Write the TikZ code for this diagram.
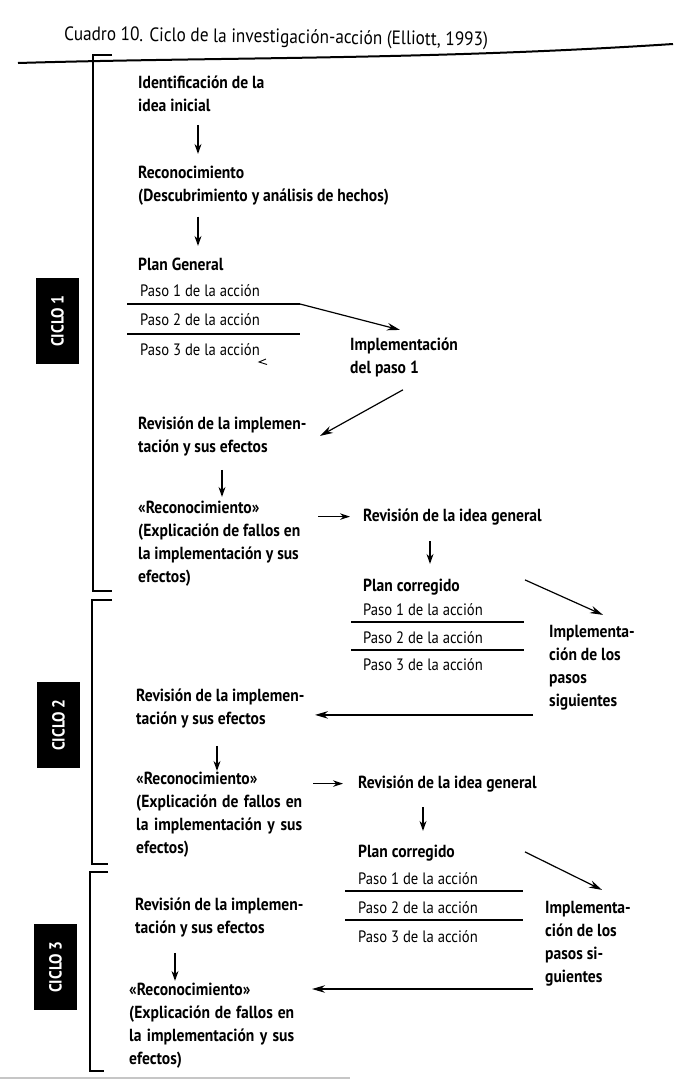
\documentclass[tikz,border=0pt]{standalone}
\usepackage{fontspec}
\setmainfont{PT Sans}[FakeStretch=0.89]
\usetikzlibrary{arrows.meta}
\tikzset{
  blk/.style={anchor=north west, inner sep=0pt, align=left, yshift=-4pt,
    font=\bfseries\fontsize{17.5}{23}\selectfont, execute at begin node=\strut},
  paso/.style={anchor=base west, inner sep=0pt, font=\fontsize{16.5}{20}\selectfont},
  ciclo/.style={fill=black, text=white, rotate=90, minimum width=86pt,
    minimum height=43pt, inner sep=0pt, font=\bfseries\fontsize{17.5}{20}\selectfont},
  dn/.style={-{Stealth[length=10pt,width=7pt]}, line width=1.3pt},
  sa/.style={-{Stealth[length=10pt,width=6.5pt]}, line width=1.3pt},
  la/.style={-{Stealth[length=13pt,width=7.5pt]}, line width=1.2pt},
  sep/.style={line width=1.2pt},
  brk/.style={line width=1.2pt},
}
\begin{document}
\begin{tikzpicture}[x=1pt,y=-1pt]
\path[use as bounding box, fill=white] (0,0) rectangle (673,1080);

% heading and rule
\node[anchor=base west, inner sep=0pt, rotate=-0.8, font=\fontsize{19.4}{23}\selectfont]
  (title) at (64,40) {Cuadro 10. Ciclo de la investigación-acción (Elliott, 1993)};
\draw[line width=2pt] (18,63) .. controls (220,57) and (430,60) .. (673,44);

% brackets and cycle labels
\draw[brk] (112,55) -- (93,55) -- (93,591) -- (112,591);
\draw[brk] (112,600) -- (92,600) -- (92,864) -- (108,864);
\draw[brk] (108,872) -- (90,872) -- (90,1071) -- (104,1071);
\node[ciclo] (c1) at (57.5,321) {CICLO 1};
\node[ciclo] (c2) at (58.5,725) {CICLO 2};
\node[ciclo] (c3) at (55.5,967) {CICLO 3};

% ---------- cycle 1 ----------
\node[blk] (ident) at (138,71.9) {Identificación de la\\idea inicial};
\node[blk] (recon) at (138,161.9) {Reconocimiento\\(Descubrimiento y análisis de hechos)};
\node[blk] (plang) at (138,249.9) {Plan General};
\node[paso] (pa1) at (140,296) {Paso 1 de la acción};
\node[paso] (pa2) at (140,325) {Paso 2 de la acción};
\node[paso] (pa3) at (140,355) {Paso 3 de la acción};
\coordinate (s1a) at (127,304); \coordinate (s1b) at (300,304);
\coordinate (s2a) at (127,334); \coordinate (s2b) at (300,334);
\draw[sep] (s1a) -- (s1b);
\draw[sep] (s2a) -- (s2b);
\draw[line width=0.9pt] (266,359) -- (259,362) -- (267,364.5);
\node[blk] (impl1) at (350,333.9) {Implementación\\del paso 1};
\node[blk] (rev1) at (138,412.9) {Revisión de la implemen-\\tación y sus efectos};
\node[blk] (reco1) at (138,496.9) {«Reconocimiento»\\(Explicación de fallos en\\la implementación y sus\\efectos)};
\node[blk] (idea1) at (363,500.9) {Revisión de la idea general};
\node[blk] (plc1) at (363,570.9) {Plan corregido};

\draw[dn] ([xshift=60pt,yshift=-6pt]ident.south west) -- ([xshift=60pt,yshift=12pt]recon.north west);
\draw[dn] ([xshift=60pt,yshift=-8pt]recon.south west) -- ([xshift=60pt,yshift=8pt]plang.north west);
\draw[la] (s1b) -- ([xshift=50pt,yshift=8pt]impl1.north west);
\draw[la] ([xshift=53pt,yshift=-9pt]impl1.south west) -- ([xshift=182pt,yshift=-19pt]rev1.north west);
\draw[dn] ([xshift=84pt,yshift=-10pt]rev1.south west) -- ([xshift=84pt,yshift=4pt]reco1.north west);
\path ([xshift=180pt]reco1.north west) coordinate (r1o);
\draw[sa] (r1o |- idea1.west) -- ([xshift=-13pt]idea1.west);
\draw[dn] ([xshift=67pt,yshift=-13pt]idea1.south west) -- ([xshift=67pt,yshift=11pt]plc1.north west);

% ---------- cycle 2 ----------
\node[paso] (pb1) at (363,615) {Paso 1 de la acción};
\node[paso] (pb2) at (363,643) {Paso 2 de la acción};
\node[paso] (pb3) at (363,670) {Paso 3 de la acción};
\coordinate (t1a) at (351,622); \coordinate (t1b) at (524,622);
\coordinate (t2a) at (351,650); \coordinate (t2b) at (524,650);
\draw[sep] (t1a) -- (t1b);
\draw[sep] (t2a) -- (t2b);
\node[blk] (impl2) at (549,620.9) {Implementa-\\ción de los\\pasos\\siguientes};
\node[blk] (rev2) at (136,684.9) {Revisión de la implemen-\\tación y sus efectos};
\node[blk] (reco2) at (136,767.9) {«Reconocimiento»\\\makebox[166pt][s]{(Explicación de fallos en}\\\makebox[166pt][s]{la implementación y sus}\\efectos)};
\node[blk] (idea2) at (358,767.9) {Revisión de la idea general};
\node[blk] (plc2) at (358,836.9) {Plan corregido};

\draw[la] ([xshift=162pt,yshift=-5pt]plc1.north west) -- ([xshift=54pt,yshift=10pt]impl2.north west);
\draw[la] ([xshift=-16pt,yshift=-90pt]impl2.north west) -- ([xshift=179pt,yshift=-26pt]rev2.north west);
\draw[dn] ([xshift=81pt,yshift=-14pt]rev2.south west) -- ([xshift=81pt,yshift=1pt]reco2.north west);
\path ([xshift=177pt]reco2.north west) coordinate (r2o);
\draw[sa] (r2o |- idea2.west) -- ([xshift=-15pt]idea2.west);
\draw[dn] ([xshift=65pt,yshift=-12pt]idea2.south west) -- ([xshift=65pt,yshift=10pt]plc2.north west);

% ---------- cycle 3 ----------
\node[paso] (pc1) at (358,884) {Paso 1 de la acción};
\node[paso] (pc2) at (358,913) {Paso 2 de la acción};
\node[paso] (pc3) at (358,942) {Paso 3 de la acción};
\coordinate (u1a) at (345,891); \coordinate (u1b) at (523,891);
\coordinate (u2a) at (345,920); \coordinate (u2b) at (523,920);
\draw[sep] (u1a) -- (u1b);
\draw[sep] (u2a) -- (u2b);
\node[blk] (impl3) at (545,896.9) {Implementa-\\ción de los\\pasos si-\\guientes};
\node[blk] (rev3) at (135,893.9) {Revisión de la implemen-\\tación y sus efectos};
\node[blk] (reco3) at (129,978.9) {«Reconocimiento»\\\makebox[165pt][s]{(Explicación de fallos en}\\\makebox[165pt][s]{la implementación y sus}\\efectos)};

\draw[la] ([xshift=167pt,yshift=-11pt]plc2.north west) -- ([xshift=57pt,yshift=11pt]impl3.north west);
\draw[la] ([xshift=-12pt,yshift=-88.1pt]impl3.north west) -- ([xshift=183pt,yshift=-6.1pt]reco3.north west);
\draw[dn] ([xshift=40pt,yshift=-12pt]rev3.south west) -- ([xshift=46pt,yshift=2pt]reco3.north west);

% faint page edge at the foot
\draw[gray!45, line width=2pt] (0,1078) -- (350,1078);
\end{tikzpicture}
\end{document}
